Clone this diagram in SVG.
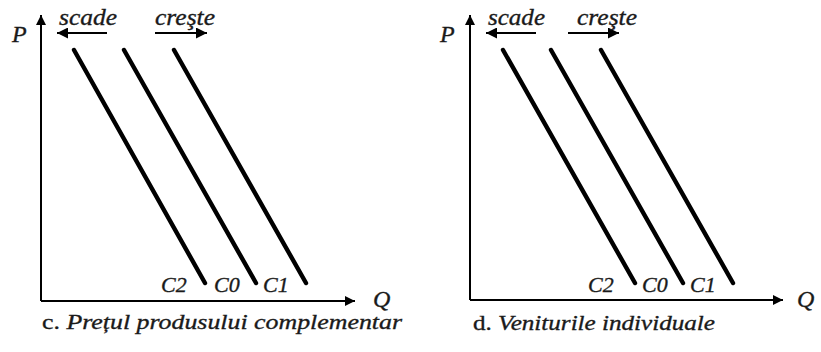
<svg xmlns="http://www.w3.org/2000/svg" width="821" height="352" viewBox="0 0 821 352">
<style>
.ax{stroke:#000;stroke-width:2;fill:none}
.sm{stroke:#000;stroke-width:2.2;fill:none}
.cv{stroke:#000;stroke-width:4.4;fill:none;stroke-linecap:round}
text{font-family:"Liberation Serif","Times New Roman",serif;fill:#1a1a1a;stroke:#1a1a1a;stroke-width:0.35;font-style:italic}
.lab{font-size:24px}
.cl{font-size:22px}
.cap{font-size:22px}
.up{font-style:normal}
</style>
<defs>
<marker id="ah" viewBox="0 0 10 10" refX="10" refY="5" markerWidth="5" markerHeight="5" markerUnits="strokeWidth" orient="auto">
<path d="M0,0 L10,5 L0,10 z" fill="#000"/>
</marker>
</defs>
<rect width="821" height="352" fill="#fff"/>
<g id="connectors">
<path class="ax" d="M41,301 V15" marker-end="url(#ah)"/>
<path class="ax" d="M41,301 H355" marker-end="url(#ah)"/>
<path class="sm" d="M107,33 H57" marker-end="url(#ah)"/>
<path class="sm" d="M155,33 H207" marker-end="url(#ah)"/>
<path class="ax" d="M470,300 V15" marker-end="url(#ah)"/>
<path class="ax" d="M470,300 H783" marker-end="url(#ah)"/>
<path class="sm" d="M536,33 H486" marker-end="url(#ah)"/>
<path class="sm" d="M568,33 H619" marker-end="url(#ah)"/>
</g>
<g id="panel-c">
<g id="c-C2"><line class="cv" x1="74" y1="50" x2="205" y2="283"/><text class="cl" x="161" y="292">C2</text></g>
<g id="c-C0"><line class="cv" x1="124" y1="50" x2="256" y2="283"/><text class="cl" x="214" y="292">C0</text></g>
<g id="c-C1"><line class="cv" x1="174" y1="50" x2="306" y2="283"/><text class="cl" x="263" y="292">C1</text></g>
<text class="lab" x="12" y="42">P</text>
<text class="lab" x="373" y="307">Q</text>
<text class="lab" x="59" y="25" textLength="58" lengthAdjust="spacingAndGlyphs">scade</text>
<text class="lab" x="155" y="25" textLength="60" lengthAdjust="spacingAndGlyphs">creşte</text>
<text class="cap" x="42" y="329" textLength="360" lengthAdjust="spacingAndGlyphs"><tspan class="up">c.</tspan> Prețul produsului complementar</text>
</g>
<g id="panel-d">
<g id="d-C2"><line class="cv" x1="503" y1="50" x2="635" y2="283"/><text class="cl" x="588" y="292">C2</text></g>
<g id="d-C0"><line class="cv" x1="551" y1="50" x2="683" y2="283"/><text class="cl" x="642" y="292">C0</text></g>
<g id="d-C1"><line class="cv" x1="601" y1="50" x2="733" y2="283"/><text class="cl" x="690" y="292">C1</text></g>
<text class="lab" x="440" y="42">P</text>
<text class="lab" x="797" y="307">Q</text>
<text class="lab" x="488" y="25" textLength="57" lengthAdjust="spacingAndGlyphs">scade</text>
<text class="lab" x="577" y="25" textLength="60" lengthAdjust="spacingAndGlyphs">creşte</text>
<text class="cap" x="473" y="330" textLength="242" lengthAdjust="spacingAndGlyphs"><tspan class="up">d.</tspan> Veniturile individuale</text>
</g>
</svg>
